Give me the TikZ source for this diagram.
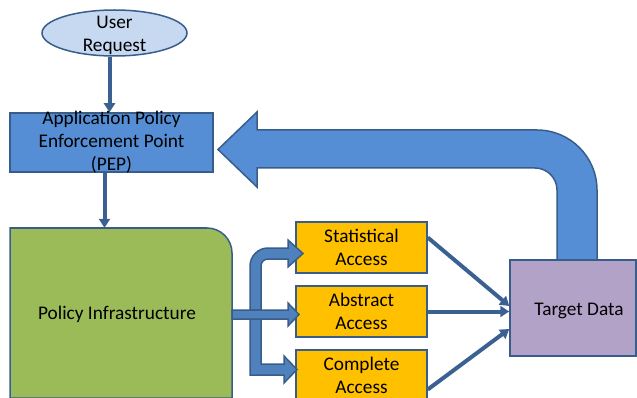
\documentclass[tikz,border=0pt]{standalone}
\usepackage{fontspec}
\setmainfont{Carlito}
\usetikzlibrary{positioning,arrows.meta,shapes}
\definecolor{edgeblue}{HTML}{385D8A}
\definecolor{flowblue}{HTML}{3B6192}
\definecolor{reqblue}{HTML}{C6D9F1}
\definecolor{pepblue}{HTML}{558ED5}
\definecolor{bandblue}{HTML}{4F81BD}
\definecolor{infragreen}{HTML}{9BBB59}
\definecolor{accessgold}{HTML}{FFC000}
\definecolor{datalilac}{HTML}{B3A2C7}

\begin{document}
\begin{tikzpicture}[
    x = 1pt,
    y = -1pt,
    font = \fontsize{19.3}{23}\selectfont,
    > = {Triangle[width=11pt,length=9pt]},
    outline/.style={draw=edgeblue, line width=1.5pt},
    access/.style={outline, fill=accessgold, inner sep=0pt, minimum width=131pt, minimum height=51pt, align=center},
    flow/.style={->, draw=flowblue, line width=4pt},
    fat/.style={outline, fill=bandblue, line join=miter},
    uturn/.style={outline, fill=pepblue, line join=miter}
]
    \useasboundingbox (0,0) rectangle (637,398);
    \clip (0,0) rectangle (637,398);

    % request and enforcement point
    \node[ellipse, outline, fill=reqblue, inner sep=0pt, minimum width=145pt, minimum height=46pt,
          label={[align=center, yshift=-2pt]center:User\\Request}] (req) at (114.5,33) {};
    \node[rectangle, outline, fill=pepblue, minimum width=203pt, minimum height=59pt,
          label={[align=center]center:Application Policy\\Enforcement Point\\(PEP)}] (pep) at (111.5,142.5) {};

    % policy infrastructure, one round corner
    \filldraw[outline, fill=infragreen] (10,398) -- (10,228) -- (207,228)
        .. controls (220.8,228) and (232,239.2) .. (232,253) -- (232,398) -- cycle;
    \node[minimum width=222pt, minimum height=167pt,
          label={[yshift=-3pt]center:Policy Infrastructure}] (infra) at (117,311.5) {};

    % access levels
    \node[access] (stat) at (361.5,247.5) {Statistical\\Access};
    \node[access] (abst) at (361.5,311.5) {Abstract\\Access};
    \node[access] (comp) at (361.5,375.5) {Complete\\Access};

    % block arrows out of the infrastructure
    \filldraw[fat] (250,318) -- (250,266) .. controls (250,256.1) and (258.1,248) .. (268,248)
        -- (288,248) -- (288,240) -- (303,253.5) -- (288,267) -- (288,259) -- (268,259)
        .. controls (264.1,259) and (261,262.1) .. (261,266) -- (261,318) -- cycle;
    \filldraw[fat] (250,310) -- (250,375) -- (284,375) -- (284,383) -- (297,369.5)
        -- (284,356) -- (284,364) -- (261,364) -- (261,310) -- cycle;
    \filldraw[fat] (232,310) -- (288,310) -- (288,303) -- (299,314.5) -- (288,326)
        -- (288,319) -- (232,319) -- cycle;

    % feedback from the data
    \filldraw[uturn] (597,262) -- (597,190) .. controls (597,156.9) and (570.1,130) .. (537,130)
        -- (257,130) -- (257,112) -- (218,149.5) -- (257,187) -- (257,168) -- (535,168)
        .. controls (547.1,168) and (557,177.9) .. (557,190) -- (557,262) -- cycle;

    \node[rectangle, outline, fill=datalilac, minimum width=126pt, minimum height=96pt,
          label={[xshift=6pt, yshift=-3pt]center:Target Data}] (target) at (573,308) {};

    \draw[flow] ([xshift=-5pt]req.south) -- ([xshift=-5pt]req.south |- pep.north);
    \draw[flow] ([xshift=-7pt]pep.south) -- ([xshift=-7pt]pep.south |- infra.north);
    \draw[flow] ([yshift=10pt]stat.east) -- ([yshift=2pt]target.west);
    \draw[flow] (abst.east) -- (abst.east -| target.west);
    \draw[flow] ([yshift=-14pt]comp.east) -- ([yshift=-21pt]target.west);
\end{tikzpicture}
\end{document}
